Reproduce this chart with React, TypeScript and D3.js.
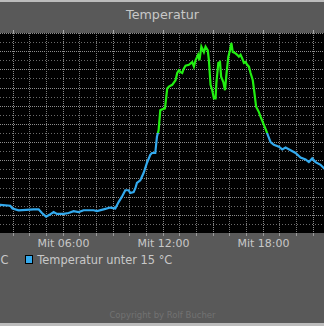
import * as React from "react";
import * as d3 from "d3";

const W = 324;
const H = 326;

// Mittwoch, readings (HH:MM, °C)
const day = "2014-01-15";
const times = [
  "01:58", "02:16", "02:52", "03:00", "03:22", "04:16", "04:34", "04:46", "05:01", "05:13",
  "05:28", "05:40", "06:04", "06:22", "06:40", "06:58", "07:16", "07:52", "08:04", "08:28",
  "08:52", "09:10", "09:22", "09:34", "09:46", "09:58", "10:04", "10:16", "10:22", "10:28",
  "10:40", "10:52", "11:04", "11:16", "11:22", "11:34", "11:40", "11:46", "11:52", "11:59",
  "12:09", "12:17", "12:23", "12:35", "12:47", "12:53", "12:59", "13:05", "13:11", "13:17",
  "13:23", "13:35", "13:47", "13:53", "13:59", "14:08", "14:13", "14:20", "14:29", "14:35",
  "14:43", "14:47", "14:53", "14:59", "15:05", "15:11", "15:14", "15:21", "15:27", "15:31",
  "15:39", "15:45", "15:50", "15:57", "16:03", "16:08", "16:13", "16:21", "16:29", "16:35",
  "16:41", "16:47", "16:53", "16:59", "17:05", "17:11", "17:17", "17:25", "17:31", "17:37",
  "17:47", "17:53", "18:05", "18:13", "18:20", "18:29", "18:41", "18:59", "19:11", "19:23",
  "19:41", "19:59", "20:17", "20:35", "20:47", "20:59", "21:11", "21:29", "21:42", "21:59",
];
const temps = [
  7.1, 7.1, 7.0, 6.7, 6.5, 6.6, 6.6, 6.2, 5.8, 6.0,
  6.3, 6.1, 6.1, 6.2, 6.4, 6.3, 6.5, 6.5, 6.4, 6.6,
  6.8, 6.7, 7.4, 8.0, 8.7, 8.7, 8.4, 8.5, 8.9, 9.5,
  9.8, 10.6, 11.7, 12.6, 12.8, 12.8, 14.6, 15.3, 17.5, 17.6,
  17.7, 19.9, 20.1, 20.3, 20.8, 21.6, 21.9, 21.7, 21.6, 22.1,
  22.4, 22.5, 22.8, 22.3, 23.0, 23.6, 23.0, 24.5, 23.9, 24.5,
  24.1, 23.0, 20.3, 19.7, 18.8, 18.8, 20.5, 22.7, 22.8, 21.2,
  20.6, 19.7, 21.4, 23.4, 24.1, 24.9, 23.9, 23.8, 23.6, 23.4,
  23.6, 23.2, 22.7, 22.8, 22.5, 22.3, 21.6, 20.8, 19.4, 17.9,
  17.3, 16.8, 15.9, 15.3, 14.7, 14.0, 13.7, 13.5, 13.2, 13.4,
  13.1, 12.8, 12.3, 12.1, 11.8, 12.2, 11.8, 11.5, 11.1, 10.7,
];
const threshold = 15;
const yDomain = [4, 26];
const legendLabels = ["Temperatur über 15 °C", "Temperatur unter 15 °C"];
const seriesColors = ["#22ee11", "#33aaee"];
const title = "Temperatur";
const dayPrefix = "Mit";
const copyright = "Copyright by Rolf Bucher";

const font = "DejaVu Sans, Verdana, sans-serif";

export default function App() {
  const parse = d3.timeParse("%Y-%m-%d %H:%M");
  const start = parse(day + " 00:00") as Date;
  const end = d3.timeDay.offset(start, 1);
  const data = times.map((t, i) => ({ t: parse(day + " " + t) as Date, v: temps[i] }));

  const plotTop = 33;
  const plotBottom = 233;

  const x = d3.scaleTime().domain([start, end]).range([-37.5, 362.5]);
  const y = d3.scaleLinear().domain(yDomain).range([plotBottom, plotTop]);

  const line = d3
    .line<{ t: Date; v: number }>()
    .x((d) => x(d.t))
    .y((d) => y(d.v));

  const hourTicks = d3.timeHour.range(start, end);
  // only the labels that fall inside the visible part of the plot
  const labelTicks = d3.timeHour
    .every(6)!
    .range(start, end)
    .filter((t) => x(t) > 0 && x(t) < W);
  const yTicks = d3.range(yDomain[0] + 1, yDomain[1]);
  const fmt = d3.timeFormat("%H:%M");
  const ty = y(threshold);

  return (
    <svg
      width={W}
      height={H}
      style={{ position: "absolute", left: 0, top: 0, display: "block" }}
      fontFamily={font}
    >
      <defs>
        <clipPath id="above">
          <rect x={0} y={plotTop} width={W} height={ty - plotTop} />
        </clipPath>
        <clipPath id="below">
          <rect x={0} y={ty} width={W} height={plotBottom - ty} />
        </clipPath>
      </defs>

      <rect width={W} height={H} fill="#595959" />
      <rect width={W} height={2} fill="#bcbcbc" />
      <rect y={H - 3} width={W} height={3} fill="#bcbcbc" />

      <text x={162.5} y={19} textAnchor="middle" fontSize={12.7} fill="#c8c8c8">
        {title}
      </text>

      <rect x={0} y={plotTop} width={W} height={plotBottom - plotTop} fill="#000" />

      <g shapeRendering="crispEdges">
        {yTicks.map((v) => {
          const yy = Math.round(y(v)) + 0.5;
          const major = v % 2 === 0;
          return (
            <line
              key={"h" + v}
              x1={0}
              x2={W}
              y1={yy}
              y2={yy}
              stroke={major ? "#8c8c8c" : "#6a6a6a"}
              strokeDasharray={major ? "1,1" : "1,2"}
            />
          );
        })}
        {hourTicks.map((t) => {
          const xx = Math.round(x(t)) + 0.5;
          const major = t.getHours() % 3 === 0;
          return (
            <g key={"v" + t.getTime()}>
              <line
                x1={xx}
                x2={xx}
                y1={plotTop}
                y2={plotBottom}
                stroke={major ? "#8c8c8c" : "#777"}
                strokeDasharray="1,1"
              />
              {major && <line x1={xx} x2={xx} y1={30} y2={plotTop} stroke="#a8a8a8" />}
              <line x1={xx} x2={xx} y1={plotBottom} y2={plotBottom + 3} stroke="#9a9a9a" />
            </g>
          );
        })}
        <line x1={0} x2={W} y1={plotTop + 0.5} y2={plotTop + 0.5} stroke="#8c8c8c" strokeDasharray="1,1" />
      </g>

      <path d={line(data) ?? ""} fill="none" stroke={seriesColors[0]} strokeWidth={2.2} clipPath="url(#above)" />
      <path d={line(data) ?? ""} fill="none" stroke={seriesColors[1]} strokeWidth={2.2} clipPath="url(#below)" />

      {labelTicks.map((t) => (
        <text
          key={"l" + t.getTime()}
          x={x(t) + 1}
          y={247}
          textAnchor="middle"
          fontSize={11}
          fill="#c8c8c8"
        >
          {dayPrefix + " " + fmt(t)}
        </text>
      ))}

      <g fontSize={11.4} fill="#c8c8c8">
        <rect x={-150.5} y={255.5} width={7} height={8} fill={seriesColors[0]} stroke="#000" />
        <text x={8.5} y={264} textAnchor="end">
          {legendLabels[0]}
        </text>
        <rect x={25.5} y={255.5} width={7} height={8} fill={seriesColors[1]} stroke="#000" />
        <text x={37.3} y={264}>
          {legendLabels[1]}
        </text>
      </g>

      <text x={162.5} y={318} textAnchor="middle" fontSize={8.5} fill="#727272">
        {copyright}
      </text>
    </svg>
  );
}
